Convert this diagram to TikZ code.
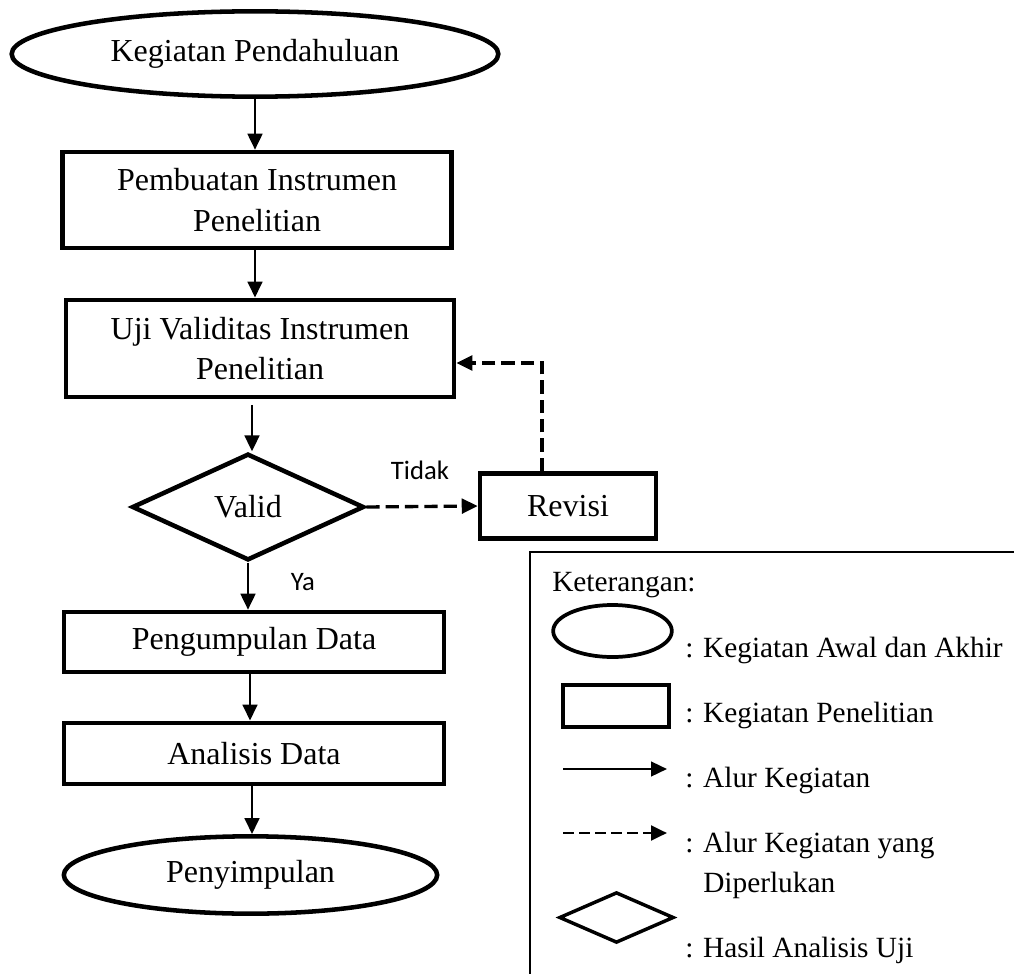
\documentclass[tikz,border=0pt]{standalone}
\usepackage{fontspec}
\setmainfont{Liberation Serif}
\newfontfamily\calib{Carlito}
\usetikzlibrary{shapes.geometric,arrows.meta}
\tikzset{
  mainfont/.style={font=\fontsize{24}{30.5}\selectfont, align=center},
  legfont/.style={font=\fontsize{22}{28}\selectfont},
  term/.style={ellipse, draw, line width=3.4pt, inner sep=0pt, mainfont},
  proc/.style={rectangle, draw, line width=3.4pt, inner sep=0pt, mainfont},
  decis/.style={diamond, draw, line width=3.4pt, inner sep=0pt, mainfont},
  arr/.style={line width=2pt, -{Triangle[length=12pt,width=11pt]}},
  dasharr/.style={line width=2.5pt, dash pattern=on 10pt off 4.5pt, -{Triangle[length=12pt,width=11pt]}},
  lbl/.style={font=\calib\fontsize{20}{24}\selectfont, inner sep=0pt},
  legtext/.style={legfont, anchor=base west, inner sep=0pt},
}
\begin{document}
\begin{tikzpicture}[x=0.75pt,y=-0.75pt]
\useasboundingbox (0,0) rectangle (1014,974);
% main flow
\node[term, minimum width=365pt, minimum height=64pt] (start) at (255,54) {Kegiatan Pendahuluan};
\node[proc, minimum width=292pt, minimum height=72pt] (p1) at (257,200) {Pembuatan Instrumen\\Penelitian};
\node[proc, minimum width=291pt, minimum height=73pt] (p2) at (260,348.5) {Uji Validitas Instrumen\\Penelitian};
\node[decis, minimum width=174pt, minimum height=80pt] (valid) at (248,507) {Valid};
\node[proc, minimum width=132pt, minimum height=49pt] (rev) at (568,506) {Revisi};
\node[proc, minimum width=285pt, minimum height=45pt] (p3) at (254,642) {Pengumpulan Data};
\node[proc, minimum width=285pt, minimum height=46pt] (p4) at (254,753.5) {Analisis Data};
\node[term, minimum width=280pt, minimum height=58pt] (end) at (250.5,875) {Penyimpulan};
\node[lbl] (tidak) at (420,470) {Tidak};
\node[lbl] (ya) at (303,582) {Ya};
\coordinate (c) at (542,363);
\coordinate (x250) at (250,0);
\coordinate (x252) at (252,0);
% arrows
\draw[arr] (start.south) -- (start.south |- p1.north);
\draw[arr] (p1.south -| start.south) -- (start.south |- p2.north);
\draw[arr, shorten <=4pt] (p2.south -| x252) -- (x252 |- valid.north);
\draw[arr] (valid.south) -- (valid.south |- p3.north);
\draw[arr] (p3.south -| x250) -- (x250 |- p4.north);
\draw[arr] (p4.south -| x252) -- (x252 |- end.north);
\draw[dasharr] (valid.east) -- (rev.west);
\draw[dasharr] (rev.north -| c) -- (c) -- (c -| p2.east);
% legend
\draw[line width=0.8pt] (1014,552) coordinate (lgtr) -- (530,552) coordinate (lgtl) -- (530,974) coordinate (lgbl);
\node[legtext] (kt) at (552,591) {Keterangan:};
\node[ellipse, draw, line width=2.8pt, minimum width=89pt, minimum height=39pt, inner sep=0pt] (le) at (612.5,631) {};
\node[legtext] (t1) at (685,657) {: Kegiatan Awal dan Akhir};
\node[rectangle, draw, line width=3.4pt, minimum width=79.5pt, minimum height=31.5pt, inner sep=0pt] (lr) at (616,706) {};
\node[legtext] (t2) at (685,722) {: Kegiatan Penelitian};
\coordinate (la1) at (563,769);
\coordinate (la2) at (667,769);
\draw[arr, line width=1.8pt] (la1) -- (la2);
\node[legtext] (t3) at (685,787) {: Alur Kegiatan};
\coordinate (ld1) at (563,833);
\coordinate (ld2) at (667,833);
\draw[dasharr, line width=2.2pt, dash pattern=on 8.5pt off 3.5pt] (ld1) -- (ld2);
\node[legtext] (t4) at (685,852) {: Alur Kegiatan yang};
\node[legtext] (t5) at (703,892) {Diperlukan};
\node[diamond, draw, line width=2.6pt, minimum width=86pt, minimum height=38pt, inner sep=0pt] (ldm) at (616.5,917.5) {};
\node[legtext] (t6) at (685,957) {: Hasil Analisis Uji};
\end{tikzpicture}
\end{document}
